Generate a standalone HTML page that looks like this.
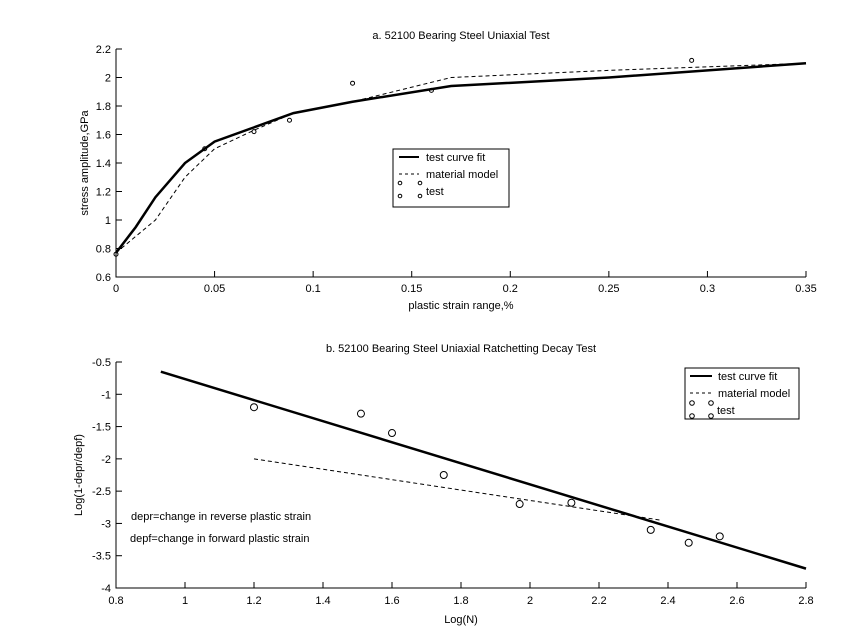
<!DOCTYPE html>
<html><head><style>
body{margin:0;background:#fff;}
svg{display:block;font-family:"Liberation Sans",sans-serif;}
text{font-size:11px;fill:#000;}
</style></head><body>
<svg id="s" width="848" height="640" xmlns="http://www.w3.org/2000/svg">
<rect width="848" height="640" fill="#fff"/>
<text x="461" y="39" text-anchor="middle">a. 52100 Bearing Steel Uniaxial Test</text>
<text x="461" y="352" text-anchor="middle">b. 52100 Bearing Steel Uniaxial Ratchetting Decay Test</text>
<text x="461" y="309" text-anchor="middle">plastic strain range,%</text>
<text x="461" y="623" text-anchor="middle">Log(N)</text>
<text transform="translate(88,163) rotate(-90)" text-anchor="middle">stress amplitude,GPa</text>
<text transform="translate(82,475) rotate(-90)" text-anchor="middle">Log(1-depr/depf)</text>
<text x="131" y="520">depr=change in reverse plastic strain</text>
<text x="130" y="542">depf=change in forward plastic strain</text>
<g id="g"></g>
</svg>
<script>
var g=document.getElementById('g'),h='';
function ax(x0,x1,y0,y1,px0,px1,py0,py1){
 return [function(x){return px0+(x-x0)/(x1-x0)*(px1-px0)},function(y){return py0+(y-y0)/(y1-y0)*(py1-py0)}];}
var A=ax(0,0.35,0.6,2.2,116,806,277,49),X=A[0],Y=A[1];
h+='<path d="M116 49V277H806" fill="none" stroke="#000"/>';
for(var i=0;i<=7;i++){var v=i*0.05,x=X(v);h+='<line x1="'+x+'" y1="277" x2="'+x+'" y2="271" stroke="#000"/><text x="'+x+'" y="292" text-anchor="middle">'+(+v.toFixed(2))+'</text>';}
for(var i=0;i<=8;i++){var v=0.6+i*0.2,y=Y(v);h+='<line x1="116" y1="'+y+'" x2="122" y2="'+y+'" stroke="#000"/><text x="111" y="'+(y+4)+'" text-anchor="end">'+(+v.toFixed(1))+'</text>';}
function pl(pts,X,Y,st){return '<polyline fill="none" stroke="#000" '+st+' points="'+pts.map(function(p){return X(p[0])+','+Y(p[1])}).join(' ')+'"/>';}
h+=pl([[0,0.77],[0.01,0.95],[0.02,1.16],[0.035,1.4],[0.05,1.55],[0.07,1.65],[0.09,1.75],[0.12,1.83],[0.17,1.94],[0.25,2.0],[0.35,2.1]],X,Y,'stroke-width="2.5"');
h+=pl([[0,0.77],[0.02,1.0],[0.035,1.3],[0.05,1.5],[0.07,1.63],[0.09,1.75],[0.12,1.83],[0.17,2.0],[0.25,2.05],[0.35,2.1]],X,Y,'stroke-dasharray="4,3"');
[[0,0.76],[0.045,1.5],[0.07,1.62],[0.088,1.7],[0.12,1.96],[0.16,1.91],[0.292,2.12]].forEach(function(p){h+='<circle cx="'+X(p[0])+'" cy="'+Y(p[1])+'" r="2" fill="none" stroke="#000"/>';});
h+='<rect x="393" y="149" width="116" height="58" fill="#fff" stroke="#000"/><line x1="399" y1="157" x2="419" y2="157" stroke="#000" stroke-width="2"/><text x="426" y="161">test curve fit</text><line x1="399" y1="174" x2="419" y2="174" stroke="#000" stroke-dasharray="3,3"/><text x="426" y="178">material model</text><circle cx="400" cy="183" r="1.8" fill="none" stroke="#000"/><circle cx="420" cy="183" r="1.8" fill="none" stroke="#000"/><circle cx="400" cy="196" r="1.8" fill="none" stroke="#000"/><circle cx="420" cy="196" r="1.8" fill="none" stroke="#000"/><text x="426" y="195">test</text>';
A=ax(0.8,2.8,-0.5,-4,116,806,362,588);X=A[0];Y=A[1];
h+='<path d="M116 362V588H806" fill="none" stroke="#000"/>';
for(var i=0;i<=10;i++){var v=0.8+i*0.2,x=X(v);h+='<line x1="'+x+'" y1="588" x2="'+x+'" y2="582" stroke="#000"/><text x="'+x+'" y="604" text-anchor="middle">'+(+v.toFixed(1))+'</text>';}
for(var i=0;i<=7;i++){var v=-0.5-i*0.5,y=Y(v);h+='<line x1="116" y1="'+y+'" x2="122" y2="'+y+'" stroke="#000"/><text x="111" y="'+(y+4)+'" text-anchor="end">'+(+v.toFixed(1))+'</text>';}
h+=pl([[0.93,-0.65],[2.8,-3.7]],X,Y,'stroke-width="2.5"');
h+=pl([[1.2,-2.0],[2.38,-2.95]],X,Y,'stroke-dasharray="4,3"');
[[1.2,-1.2],[1.51,-1.3],[1.6,-1.6],[1.75,-2.25],[1.97,-2.7],[2.12,-2.68],[2.35,-3.1],[2.46,-3.3],[2.55,-3.2]].forEach(function(p){h+='<circle cx="'+X(p[0])+'" cy="'+Y(p[1])+'" r="3.5" fill="none" stroke="#000"/>';});
h+='<rect x="685" y="368" width="114" height="51" fill="#fff" stroke="#000"/><line x1="690" y1="376" x2="712" y2="376" stroke="#000" stroke-width="2"/><text x="718" y="380">test curve fit</text><line x1="690" y1="393" x2="712" y2="393" stroke="#000" stroke-dasharray="3,3"/><text x="718" y="397">material model</text><circle cx="692" cy="403" r="2.3" fill="none" stroke="#000"/><circle cx="711" cy="403" r="2.3" fill="none" stroke="#000"/><circle cx="692" cy="416" r="2.3" fill="none" stroke="#000"/><circle cx="711" cy="416" r="2.3" fill="none" stroke="#000"/><text x="717" y="414">test</text>';
g.innerHTML=h;
</script>
</body></html>
